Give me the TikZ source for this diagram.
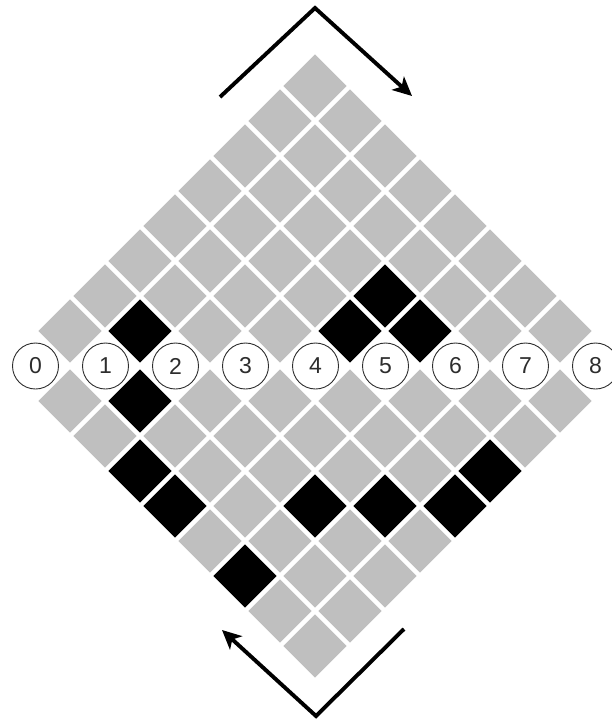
\documentclass[tikz,border=0pt]{standalone}
\usepackage{fontspec}
\setmainfont{Liberation Sans}
\usetikzlibrary{arrows.meta}
\definecolor{cellgray}{RGB}{191,191,191}
\definecolor{ringgray}{RGB}{45,45,45}
\begin{document}
\begin{tikzpicture}[x=1pt,y=-1pt,
  cell/.style={rectangle, rotate=45, minimum size=44.6pt, inner sep=0pt, outer sep=0pt, draw=none},
  ring/.style={circle, draw=ringgray, line width=0.9pt, minimum size=46pt, inner sep=0pt, fill=white,
    font=\fontsize{23}{23}\selectfont, text=ringgray},
  turn/.style={line width=3.9pt, -{Stealth[length=19pt,width=18pt,inset=5pt]}}]
\useasboundingbox (0,0) rectangle (612,720);
\clip (0,0) rectangle (612,720);
% black cells
\foreach \n in {u-7-1,u-6-4,u-7-4,u-7-5,l-0-1,l-2-0,l-3-0,l-5-0,l-3-2,l-3-3,l-3-4,l-2-5}{%
  \expandafter\xdef\csname blk-\n\endcsname{1}}
% upper triangle
\foreach \k in {0,...,7}{
  \foreach \a in {0,...,\k}{
    \ifcsname blk-u-\k-\a\endcsname\def\cf{black}\else\def\cf{cellgray}\fi
    \node[cell, fill=\cf] (u-\k-\a) at ({315+35*(2*\a-\k)}, {86+35*\k}) {};
  }
}
% lower triangle
\foreach \k in {0,...,7}{
  \pgfmathtruncatemacro\mm{7-\k}
  \foreach \m in {0,...,\mm}{
    \ifcsname blk-l-\k-\m\endcsname\def\cf{black}\else\def\cf{cellgray}\fi
    \node[cell, fill=\cf] (l-\k-\m) at ({70+35*\k+70*\m}, {401+35*\k}) {};
  }
}
% numbered circles
\foreach \i in {0,...,8}{
  \node[ring] (c\i) at ({35.5+70*\i}, 366) {\i};
}
% rotation arrows
\coordinate (ta) at (220,97);
\coordinate (tb) at (315,8);
\coordinate (tc) at (412,96);
\draw[turn] (ta) -- (tb) -- (tc);
\coordinate (ba) at (404,629);
\coordinate (bb) at (316,716);
\coordinate (bc) at (222,630);
\draw[turn] (ba) -- (bb) -- (bc);
\end{tikzpicture}
\end{document}
